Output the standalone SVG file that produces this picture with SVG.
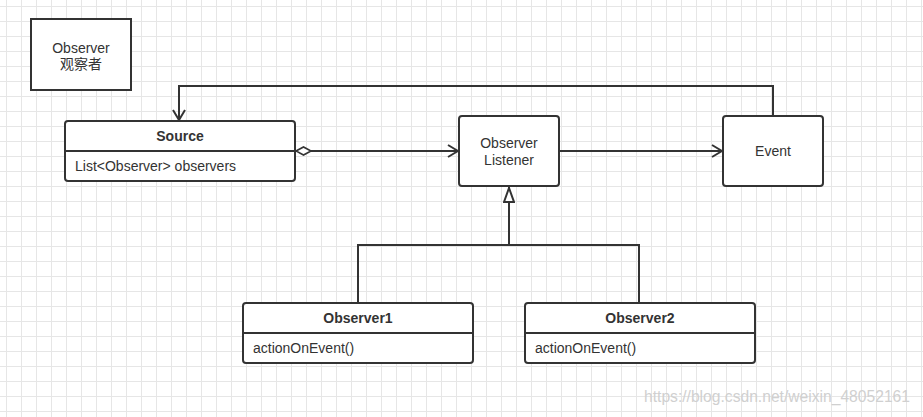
<svg xmlns="http://www.w3.org/2000/svg" width="923" height="417" viewBox="0 0 923 417">
<defs>
<pattern id="grid" x="6" y="6" width="15" height="15" patternUnits="userSpaceOnUse">
<path d="M0.5 0V15M0 0.5H15" stroke="#e6e6e6" stroke-width="1" fill="none"/>
</pattern>
<marker id="open" viewBox="0 0 12 14" refX="11" refY="7" markerWidth="12" markerHeight="14" markerUnits="userSpaceOnUse" orient="auto">
<path d="M1 1L11 7L1 13" fill="none" stroke="#333" stroke-width="2"/>
</marker>
<marker id="tri" viewBox="0 0 18 12" refX="17" refY="6" markerWidth="18" markerHeight="12" markerUnits="userSpaceOnUse" orient="auto">
<path d="M2 1L16 6L2 11Z" fill="#fff" stroke="#333" stroke-width="2"/>
</marker>
<marker id="dia" viewBox="0 0 18 10" refX="1" refY="5" markerWidth="18" markerHeight="10" markerUnits="userSpaceOnUse" orient="auto">
<path d="M1 5L8.5 1L16 5L8.5 9Z" fill="#fff" stroke="#333" stroke-width="1.6"/>
</marker>
</defs>
<style>
.box{fill:#fff;stroke:#333;stroke-width:2}
.ln{fill:none;stroke:#333;stroke-width:2}
.t{font-family:"Liberation Sans","Noto Sans CJK SC",sans-serif;font-size:14px;fill:#333}
.c{text-anchor:middle}
.b{font-weight:bold}
.wm{font-family:"Liberation Sans",sans-serif;font-size:17px;fill:#d0d0d0}
</style>
<rect width="923" height="417" fill="#fff"/>
<rect width="923" height="417" fill="url(#grid)"/>
<g id="connectors">
<path class="ln" d="M773 116V86H179V120" marker-end="url(#open)"/>
<path class="ln" d="M296 151H458" marker-start="url(#dia)" marker-end="url(#open)"/>
<path class="ln" d="M559 151H722" marker-end="url(#open)"/>
<path class="ln" d="M358 303V245H639V303"/>
<path class="ln" d="M509 245V187" marker-end="url(#tri)"/>
</g>
<g id="observer-note">
<rect class="box" x="31" y="19" width="100" height="71"/>
<text class="t c" x="81" y="53">Observer</text>
<text class="t c" x="81" y="69">观察者</text>
</g>
<g id="source">
<rect class="box" x="65" y="121" width="230" height="60" rx="3"/>
<path class="ln" d="M65 151H295"/>
<text class="t c b" x="180" y="141">Source</text>
<text class="t" x="75" y="171">List&lt;Observer&gt; observers</text>
</g>
<g id="listener">
<rect class="box" x="459" y="116" width="100" height="70" rx="3"/>
<text class="t c" x="509" y="148">Observer</text>
<text class="t c" x="509" y="165">Listener</text>
</g>
<g id="event">
<rect class="box" x="723" y="116" width="100" height="70" rx="3"/>
<text class="t c" x="773" y="156">Event</text>
</g>
<g id="observer1">
<rect class="box" x="243" y="303" width="230" height="60" rx="3"/>
<path class="ln" d="M243 333H473"/>
<text class="t c b" x="358" y="323">Observer1</text>
<text class="t" x="253" y="353">actionOnEvent()</text>
</g>
<g id="observer2">
<rect class="box" x="525" y="303" width="230" height="60" rx="3"/>
<path class="ln" d="M525 333H755"/>
<text class="t c b" x="640" y="323">Observer2</text>
<text class="t" x="535" y="353">actionOnEvent()</text>
</g>
<text class="wm" x="644" y="402" textLength="266" lengthAdjust="spacingAndGlyphs">https://blog.csdn.net/weixin_48052161</text>
</svg>
